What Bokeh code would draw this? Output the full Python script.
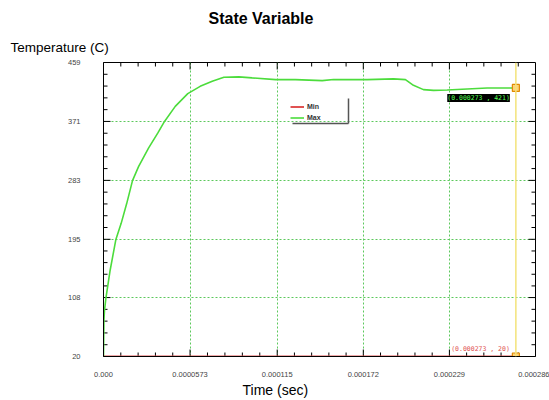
from bokeh.plotting import figure
from bokeh.models import (LinearAxis, FixedTicker, Label, Span, Legend, LegendItem,
                          Range1d, Grid, Title)
from bokeh.embed import file_html
from bokeh.resources import INLINE

# ---- data ----
time_max = [0.0, 0.0000003, 0.00000066, 0.00000155, 0.0000044, 0.0000082, 0.0000117,
            0.0000154, 0.0000192, 0.0000232, 0.0000298, 0.0000359, 0.0000404, 0.0000475,
            0.0000558, 0.0000640, 0.0000720, 0.0000797, 0.0000896, 0.0000984,
            0.0001139, 0.0001271, 0.0001448, 0.0001523, 0.0001746, 0.0001920, 0.0001999,
            0.0002052, 0.0002118, 0.0002185, 0.0002275, 0.0002408, 0.0002540, 0.0002628,
            0.000273]
temp_max = [20, 75, 88.9, 106.4, 148.8, 194.8, 218.8, 248.7, 282.6, 303.6, 331.1, 353.5,
            371.0, 393.5, 412.5, 423.4, 430.9, 436.9, 437.5, 436.0, 433.5, 433.5,
            432.0, 433.5, 433.5, 434.5, 433.5, 424.9, 418.5, 417.4, 418.0, 419.5, 421.0,
            421.0, 421.0]
time_min = [0.0, 0.000273]
temp_min = [20, 20]

cursor_time = 0.000273
cursor_max = 421
cursor_min = 20

x_ticks = [0.0, 0.0000573, 0.000115, 0.000172, 0.000229, 0.000286]
x_tick_labels = ["0.000", "0.0000573", "0.000115", "0.000172", "0.000229", "0.000286"]
y_ticks = [20, 108, 195, 283, 371, 459]

FONT = "Liberation Sans"
W, H = 549, 400
BL, BR, BT, BB = 103, 14, 62, 44
FW, FH = W - BL - BR, H - BT - BB

def minors(ticks, n=5):
    out = []
    for a, b in zip(ticks[:-1], ticks[1:]):
        for k in range(1, n):
            out.append(a + (b - a) * k / n)
    return out

x_minor = minors(x_ticks)
y_minor = minors(y_ticks)
xt = FixedTicker(ticks=x_ticks, minor_ticks=x_minor)
yt = FixedTicker(ticks=y_ticks, minor_ticks=y_minor)

x0, x1 = x_ticks[0], x_ticks[-1]
y0, y1 = y_ticks[0], y_ticks[-1]

p = figure(width=W, height=H, output_backend="svg", toolbar_location=None,
           x_range=Range1d(x0, x1), y_range=Range1d(y0, y1),
           min_border_left=BL, min_border_right=BR, min_border_top=BT, min_border_bottom=BB,
           x_axis_type=None, y_axis_type=None)
p.outline_line_color = "black"
p.outline_line_width = 1
p.background_fill_color = "white"
p.border_fill_color = "white"

def style_axis(ax, ticker, standoff):
    ax.ticker = ticker
    ax.axis_line_color = "black"
    ax.major_tick_line_color = None
    ax.minor_tick_line_color = None
    ax.major_tick_in = 0
    ax.major_tick_out = 0
    ax.minor_tick_in = 0
    ax.minor_tick_out = 0
    ax.major_label_standoff = standoff
    ax.major_label_text_font = FONT
    ax.major_label_text_color = "#444444"
    ax.major_label_text_font_size = "7.5px"

xb = LinearAxis()
style_axis(xb, xt, 15)
xb.major_label_overrides = {t: l for t, l in zip(x_ticks, x_tick_labels)}
p.add_layout(xb, "below")

yl = LinearAxis()
style_axis(yl, yt, 23)
yl.major_label_text_baseline = "bottom"
p.add_layout(yl, "left")

for dim, tk in ((0, xt), (1, yt)):
    g = Grid(dimension=dim, ticker=tk, grid_line_color="#5cc85c", grid_line_dash="2 2",
             grid_line_width=1)
    p.add_layout(g)

# inward tick marks on all four sides (lengths in pixels converted to data units)
dx = (x1 - x0) / FW
dy = (y1 - y0) / FH
MAJ, MIN = 7, 4
sx0, sy0, sx1, sy1 = [], [], [], []
for t, L in [(t, MAJ) for t in x_ticks[1:-1]] + [(t, MIN) for t in x_minor]:
    sx0 += [t, t]; sx1 += [t, t]
    sy0 += [y0, y1]; sy1 += [y0 + L * dy, y1 - L * dy]
for v, L in [(v, MAJ) for v in y_ticks[1:-1]] + [(v, MIN) for v in y_minor]:
    sy0 += [v, v]; sy1 += [v, v]
    sx0 += [x0, x1]; sx1 += [x0 + L * dx, x1 - L * dx]
p.segment(sx0, sy0, sx1, sy1, line_color="black", line_width=1)

# cursor line
p.add_layout(Span(location=cursor_time, dimension="height", line_color="#f3e37a", line_width=1.5))

r_min = p.line(time_min, temp_min, line_color="#e05252", line_width=2)
r_max = p.line(time_max, temp_max, line_color="#4cdc3c", line_width=1.6)

p.scatter([cursor_time, cursor_time], [cursor_max, cursor_min], marker="square", size=7,
          fill_color="#ffd27a", line_color="#e08a00", line_width=1.2)

p.add_layout(Label(x=cursor_time, y=cursor_max, text=f"(0.000273 , {cursor_max})",
                   text_align="right", text_baseline="middle", x_offset=-6, y_offset=-10,
                   text_font="DejaVu Sans Mono", text_font_size="6.5px", text_color="#55ff55",
                   background_fill_color="black"))
p.add_layout(Label(x=cursor_time, y=cursor_min, text=f"(0.000273 , {cursor_min})",
                   text_align="right", text_baseline="middle", x_offset=-6, y_offset=8,
                   text_font="DejaVu Sans Mono", text_font_size="6.5px", text_color="#e05252"))

LEG_X, LEG_Y = 187, 234   # legend bottom-left, pixels from frame bottom-left
legend = Legend(items=[LegendItem(label="Min", renderers=[r_min]),
                       LegendItem(label="Max", renderers=[r_max])],
                location=(LEG_X, LEG_Y), orientation="vertical",
                label_text_font=FONT, label_text_font_size="7px", label_text_font_style="bold",
                label_text_color="#333333",
                glyph_width=14, glyph_height=9, label_height=9, label_standoff=3,
                spacing=2, padding=4, margin=0,
                border_line_color=None, background_fill_alpha=0)
p.add_layout(legend, "center")

# legend drop-shadow (right and bottom edges), positioned in pixels relative to legend box
sh_l, sh_r, sh_b, sh_t = LEG_X + 2, LEG_X + 58, LEG_Y - 1, LEG_Y + 24
p.segment([x0 + sh_l * dx, x0 + sh_r * dx], [y0 + sh_b * dy, y0 + sh_b * dy],
          [x0 + sh_r * dx, x0 + sh_r * dx], [y0 + sh_b * dy, y0 + sh_t * dy],
          line_color="#555555", line_width=1.5)

# titles (later entries in p.above sit closer to the frame)
p.title = Title(text="State Variable", align="left", offset=105, text_font=FONT,
                text_font_size="16px", text_font_style="bold", text_color="black",
                standoff=5)
p.add_layout(Title(text="Temperature (C)", align="left", offset=-93, text_font=FONT,
                   text_font_size="13.5px", text_font_style="normal", text_color="black",
                   standoff=16), "above")
p.add_layout(Title(text="Time (sec)", align="left", offset=139, text_font=FONT,
                   text_font_size="14px", text_font_style="normal", text_color="black",
                   standoff=0), "below")

open("out.html", "w").write(file_html(p, INLINE))
